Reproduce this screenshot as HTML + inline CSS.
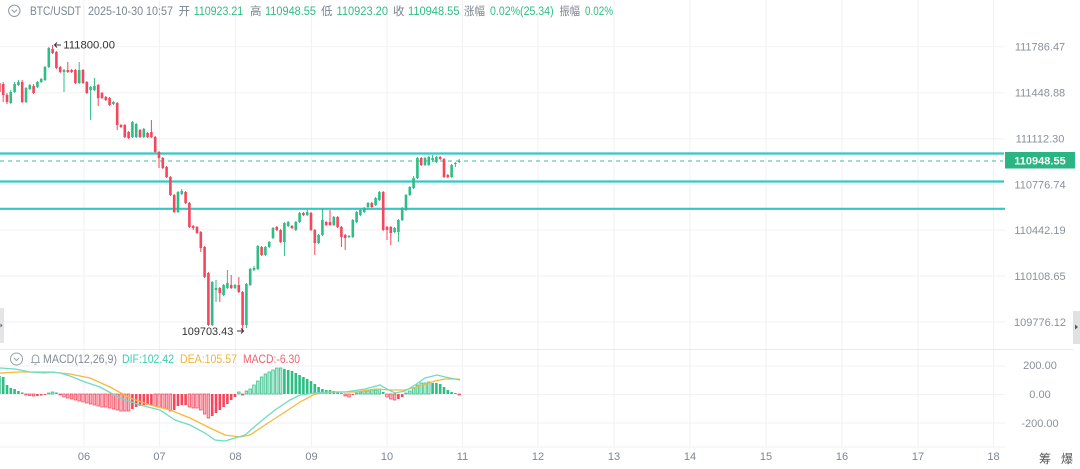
<!DOCTYPE html>
<html><head><meta charset="utf-8">
<style>
html,body{margin:0;padding:0;background:#fff;}
svg{display:block;font-family:"Liberation Sans","Noto Sans CJK SC",sans-serif;}
</style></head>
<body>
<svg width="1080" height="469" viewBox="0 0 1080 469" xmlns="http://www.w3.org/2000/svg">
<rect width="1080" height="469" fill="#fff"/>
<!-- grid -->
<g stroke="#f1f2f4" stroke-width="1">
<path d="M84 0V447M159.5 0V447M235.5 0V447M311.5 0V447M387 0V447M462.5 0V447M538 0V447M614 0V447M690 0V447M766 0V447M842 0V447M918 0V447M993.5 0V447"/>
<path d="M0 46.7H1005M0 92.7H1005M0 138.7H1005M0 184.3H1005M0 230H1005M0 276H1005M0 322H1005"/>
<path d="M0 366H1005M0 394.5H1005M0 423H1005M0 447H1005"/>
</g>
<path d="M0 349.5H1073" stroke="#e9eaec" stroke-width="1"/>

<!-- header -->
<circle cx="14.3" cy="10.8" r="5.7" fill="none" stroke="#9097a0" stroke-width="1"/>
<path d="M11.6 9.6l2.7 2.7 2.7-2.7" fill="none" stroke="#9097a0" stroke-width="1"/>
<g font-size="11.5" fill="#7c8591">
<text x="30" y="15" textLength="51" lengthAdjust="spacingAndGlyphs">BTC/USDT</text>
<text x="88" y="15" textLength="85" lengthAdjust="spacingAndGlyphs">2025-10-30 10:57</text>
<text x="178.6" y="15">开</text>
<text x="250" y="15">高</text>
<text x="321" y="15">低</text>
<text x="393" y="15">收</text>
<text x="464" y="15" textLength="21" lengthAdjust="spacingAndGlyphs">涨幅</text>
<text x="559.5" y="15" textLength="20.5" lengthAdjust="spacingAndGlyphs">振幅</text>
</g>
<g font-size="11.5" fill="#2ebd85">
<text x="193.7" y="15" textLength="49.5" lengthAdjust="spacingAndGlyphs">110923.21</text>
<text x="265" y="15" textLength="51" lengthAdjust="spacingAndGlyphs">110948.55</text>
<text x="336.5" y="15" textLength="51.5" lengthAdjust="spacingAndGlyphs">110923.20</text>
<text x="408" y="15" textLength="51.5" lengthAdjust="spacingAndGlyphs">110948.55</text>
<text x="490" y="15" textLength="63.6" lengthAdjust="spacingAndGlyphs">0.02%(25.34)</text>
<text x="585" y="15" textLength="28" lengthAdjust="spacingAndGlyphs">0.02%</text>
</g>

<!-- horizontal lines -->
<g stroke="#36c6c6" stroke-width="2.2">
<path d="M0 153.5H1004M0 181.5H1004M0 208.8H1005"/>
</g>
<path d="M0 161H1003" stroke="#3cbf93" stroke-width="1" stroke-dasharray="4 4"/>

<!-- green candles -->
<path fill="none" stroke="#2ebd85" stroke-width="1" d="M10.8 90V104M14.6 82V93M18.4 80V86M26 87V103M29.8 84V90M37.4 81V88M41.2 78V83M45 66V81M48.8 47V68M64 69V92M79.2 62V84M90.6 86V120M94.4 78V91M113.4 101V105M132.4 121V138M136.2 123V138M143.8 128V138M178 191V213M181.8 189V195M212.2 281V326M216 280V302M223.6 284V296M227.4 270V289M235 284V289M246.4 283V328M250.2 268V286M254 266V271M257.8 245V270M265.4 246V256M269.2 241V248M273 227V239M284.4 222V256M288.2 221V227M295.8 221V231M299.6 212V223M307.2 210V216M318.6 234V244M322.4 208V236M333.8 216V226M349 235V238M352.8 219V238M356.6 211V223M360.4 209V216M364.2 207V213M368 202V208M375.6 197V206M379.4 191V201M394.6 227V233M398.4 219V242M402.2 207V221M406 194V211M409.8 186V196M413.6 176V189M417.4 157V179M425 157V166M428.8 156V166M432.6 155V162M436.4 156V163M451.6 164V178M455.4 162V167M459.2 159V163"/>
<path fill="#2ebd85" d="M9.5 92h2.6V103h-2.6zM13.3 84h2.6V92h-2.6zM17.1 82h2.6V85h-2.6zM24.7 88h2.6V102h-2.6zM28.5 85h2.6V89h-2.6zM36.1 82h2.6V87h-2.6zM39.9 79h2.6V82h-2.6zM43.7 67h2.6V80h-2.6zM47.5 48h2.6V67h-2.6zM62.7 70h2.6V72h-2.6zM77.9 70h2.6V83h-2.6zM89.3 87h2.6V90h-2.6zM93.1 86h2.6V90h-2.6zM112.1 102h2.6V104h-2.6zM131.1 122h2.6V137h-2.6zM134.9 124h2.6V137h-2.6zM142.5 129h2.6V137h-2.6zM176.7 192h2.6V212h-2.6zM180.5 191h2.6V194h-2.6zM210.9 282h2.6V325h-2.6zM214.7 288h2.6V290h-2.6zM222.3 285h2.6V295h-2.6zM226.1 283h2.6V288h-2.6zM233.7 285h2.6V288h-2.6zM245.1 284h2.6V325h-2.6zM248.9 269h2.6V285h-2.6zM252.7 268h2.6V270h-2.6zM256.5 246h2.6V269h-2.6zM264.1 247h2.6V255h-2.6zM267.9 242h2.6V247h-2.6zM271.7 228h2.6V238h-2.6zM283.1 223h2.6V242h-2.6zM286.9 222h2.6V226h-2.6zM294.5 222h2.6V230h-2.6zM298.3 213h2.6V222h-2.6zM305.9 212h2.6V215h-2.6zM317.3 235h2.6V243h-2.6zM321.1 220h2.6V235h-2.6zM332.5 217h2.6V225h-2.6zM347.7 236h2.6V237h-2.6zM351.5 220h2.6V237h-2.6zM355.3 212h2.6V222h-2.6zM359.1 210h2.6V215h-2.6zM362.9 208h2.6V212h-2.6zM366.7 203h2.6V207h-2.6zM374.3 198h2.6V205h-2.6zM378.1 192h2.6V200h-2.6zM393.3 228h2.6V232h-2.6zM397.1 220h2.6V232h-2.6zM400.9 208h2.6V220h-2.6zM404.7 195h2.6V210h-2.6zM408.5 187h2.6V195h-2.6zM412.3 178h2.6V188h-2.6zM416.1 158h2.6V178h-2.6zM423.7 158h2.6V165h-2.6zM427.5 157h2.6V165h-2.6zM431.3 158h2.6V160h-2.6zM435.1 157h2.6V162h-2.6zM450.3 165h2.6V177h-2.6zM454.1 163h2.6V164h-2.6zM457.9 161h2.6V162h-2.6z"/>

<!-- red candles -->
<path fill="none" stroke="#f6465d" stroke-width="1" d="M-0.6 80V95M3.2 82V102M7 93V104M22.2 80V103M33.6 84V94M52.6 45V54M56.4 51V69M60.2 66V73M67.8 62V73M71.6 69V73M75.4 69V84M83 69V84M86.8 81V94M98.2 84V106M102 92V99M105.8 96V101M109.6 97V106M117.2 102V130M121 124V128M124.8 124V138M128.6 131V139M140 129V138M147.6 132V138M151.4 120V138M155.2 136V153M159 151V168M162.8 157V169M166.6 166V178M170.4 176V196M174.2 194V213M185.6 191V204M189.4 202V228M193.2 225V230M197 226V234M200.8 231V252M204.6 246V278M208.4 272V326M219.8 287V302M231.2 275V289M238.8 277V293M242.6 291V331M261.6 246V256M276.8 226V231M280.6 229V243M292 225V229M303.4 212V216M311 212V231M314.8 229V255M326.2 221V226M330 210V226M337.6 216V228M341.4 226V247M345.2 234V250M371.8 202V208M383.2 191V231M387 226V240M390.8 226V245M421.2 157V166M440.2 156V160M444 158V178M447.8 174V178"/>
<path fill="#f6465d" d="M-1.9 83h2.6V92h-2.6zM1.9 84h2.6V95h-2.6zM5.7 95h2.6V102h-2.6zM20.9 82h2.6V102h-2.6zM32.3 86h2.6V93h-2.6zM51.3 49h2.6V53h-2.6zM55.1 52h2.6V68h-2.6zM58.9 67h2.6V72h-2.6zM66.5 70h2.6V72h-2.6zM70.3 70h2.6V72h-2.6zM74.1 70h2.6V83h-2.6zM81.7 70h2.6V83h-2.6zM85.5 82h2.6V93h-2.6zM96.9 85h2.6V98h-2.6zM100.7 93h2.6V98h-2.6zM104.5 97h2.6V100h-2.6zM108.3 98h2.6V105h-2.6zM115.9 103h2.6V125h-2.6zM119.7 125h2.6V127h-2.6zM123.5 125h2.6V137h-2.6zM127.3 132h2.6V138h-2.6zM138.7 130h2.6V137h-2.6zM146.3 133h2.6V137h-2.6zM150.1 132h2.6V137h-2.6zM153.9 137h2.6V152h-2.6zM157.7 152h2.6V158h-2.6zM161.5 158h2.6V168h-2.6zM165.3 167h2.6V177h-2.6zM169.1 177h2.6V195h-2.6zM172.9 195h2.6V212h-2.6zM184.3 192h2.6V203h-2.6zM188.1 203h2.6V227h-2.6zM191.9 226h2.6V228h-2.6zM195.7 227h2.6V233h-2.6zM199.5 232h2.6V248h-2.6zM203.3 247h2.6V277h-2.6zM207.1 273h2.6V325h-2.6zM218.5 288h2.6V293h-2.6zM229.9 285h2.6V288h-2.6zM237.5 285h2.6V292h-2.6zM241.3 292h2.6V325h-2.6zM260.3 247h2.6V255h-2.6zM275.5 227h2.6V230h-2.6zM279.3 230h2.6V242h-2.6zM290.7 226h2.6V228h-2.6zM302.1 213h2.6V215h-2.6zM309.7 213h2.6V230h-2.6zM313.5 230h2.6V243h-2.6zM324.9 222h2.6V225h-2.6zM328.7 222h2.6V225h-2.6zM336.3 217h2.6V227h-2.6zM340.1 227h2.6V237h-2.6zM343.9 235h2.6V238h-2.6zM370.5 203h2.6V207h-2.6zM381.9 192h2.6V230h-2.6zM385.7 227h2.6V230h-2.6zM389.5 227h2.6V233h-2.6zM419.9 158h2.6V165h-2.6zM438.9 157h2.6V159h-2.6zM442.7 159h2.6V177h-2.6zM446.5 175h2.6V177h-2.6z"/>

<!-- annotations -->
<path d="M61 45H54.5M57 42.5L54.5 45L57 47.5" fill="none" stroke="#333" stroke-width="1"/>
<text x="63.3" y="48.5" font-size="11" fill="#333" textLength="51.7" lengthAdjust="spacingAndGlyphs">111800.00</text>
<text x="181.7" y="335" font-size="11" fill="#333" textLength="51.6" lengthAdjust="spacingAndGlyphs">109703.43</text>
<path d="M237 331H243.5M241 328.5L243.5 331L241 333.5" fill="none" stroke="#333" stroke-width="1"/>

<!-- price axis -->
<g font-size="11" fill="#8a919b" text-anchor="middle">
<text x="1040" y="50.7">111786.47</text>
<text x="1040" y="96.7">111448.88</text>
<text x="1040" y="142.7">111112.30</text>
<text x="1040" y="188.3">110776.74</text>
<text x="1040" y="234">110442.19</text>
<text x="1040" y="280">110108.65</text>
<text x="1040" y="326">109776.12</text>
<text x="1040" y="369">200.00</text>
<text x="1040" y="398">0.00</text>
<text x="1040" y="427">-200.00</text>
</g>
<rect x="1005" y="152" width="70" height="16.5" fill="#2bb582"/>
<text x="1040" y="164.3" font-size="11" fill="#fff" text-anchor="middle" font-weight="bold">110948.55</text>

<!-- side tabs -->
<rect x="0" y="308" width="4" height="35" fill="#e4e5e7"/>
<path d="M0.5 323.5L2.5 325.5L0.5 327.5z" fill="#666"/>
<rect x="1073" y="311" width="7" height="33" fill="#e0e1e3"/>
<path d="M1075 324.5L1078 327L1075 329.5z" fill="#555"/>

<!-- MACD header -->
<circle cx="16.5" cy="359" r="6" fill="none" stroke="#9aa0a8" stroke-width="1"/>
<path d="M13.8 357.8l2.7 2.7 2.7-2.7" fill="none" stroke="#9aa0a8" stroke-width="1"/>
<path d="M31 362.5h9M32.3 362.5v-4.3a3.2 3.2 0 0 1 6.4 0v4.3M34.3 364.2h2.4" fill="none" stroke="#9aa0a8" stroke-width="1"/>
<g font-size="12">
<text x="43" y="363" fill="#858c96" textLength="74" lengthAdjust="spacingAndGlyphs">MACD(12,26,9)</text>
<text x="122" y="363" fill="#3fcdae" textLength="52" lengthAdjust="spacingAndGlyphs">DIF:102.42</text>
<text x="180" y="363" fill="#f2b33a" textLength="57" lengthAdjust="spacingAndGlyphs">DEA:105.57</text>
<text x="243" y="363" fill="#f0626f" textLength="57" lengthAdjust="spacingAndGlyphs">MACD:-6.30</text>
</g>

<!-- MACD histogram -->
<path fill="#2ebd85" d="M-1.9 376h2.6V394h-2.6zM1.9 377h2.6V394h-2.6zM5.7 385h2.6V394h-2.6zM9.5 388h2.6V394h-2.6zM13.3 389h2.6V394h-2.6zM17.1 391h2.6V394h-2.6zM20.9 392.5h2.6V394h-2.6zM55.1 392.5h2.6V394h-2.6zM283.1 369h2.6V394h-2.6zM286.9 370h2.6V394h-2.6zM290.7 371h2.6V394h-2.6zM294.5 373h2.6V394h-2.6zM298.3 375h2.6V394h-2.6zM302.1 377h2.6V394h-2.6zM305.9 379h2.6V394h-2.6zM309.7 381h2.6V394h-2.6zM313.5 384h2.6V394h-2.6zM317.3 387h2.6V394h-2.6zM321.1 389h2.6V394h-2.6zM324.9 390h2.6V394h-2.6zM328.7 390h2.6V394h-2.6zM332.5 391h2.6V394h-2.6zM336.3 392h2.6V394h-2.6zM340.1 393h2.6V394h-2.6zM381.9 392h2.6V394h-2.6zM431.3 383h2.6V394h-2.6zM435.1 383h2.6V394h-2.6zM438.9 384h2.6V394h-2.6zM442.7 387h2.6V394h-2.6zM446.5 390h2.6V394h-2.6zM450.3 392h2.6V394h-2.6zM454.1 393h2.6V394h-2.6z"/>
<path fill="#b3e9d3" stroke="#2ebd85" stroke-width="0.7" d="M47.5 393h2.6V394h-2.6zM51.3 392h2.6V394h-2.6zM237.5 392h2.6V394h-2.6zM245.1 391h2.6V394h-2.6zM248.9 389h2.6V394h-2.6zM252.7 385h2.6V394h-2.6zM256.5 381h2.6V394h-2.6zM260.3 377h2.6V394h-2.6zM264.1 374h2.6V394h-2.6zM267.9 372h2.6V394h-2.6zM271.7 370h2.6V394h-2.6zM275.5 368h2.6V394h-2.6zM279.3 368h2.6V394h-2.6zM355.3 393h2.6V394h-2.6zM359.1 392h2.6V394h-2.6zM362.9 391h2.6V394h-2.6zM366.7 391h2.6V394h-2.6zM370.5 390h2.6V394h-2.6zM374.3 390h2.6V394h-2.6zM378.1 389h2.6V394h-2.6zM404.7 393h2.6V394h-2.6zM408.5 391h2.6V394h-2.6zM412.3 388h2.6V394h-2.6zM416.1 385h2.6V394h-2.6zM419.9 383h2.6V394h-2.6zM423.7 383h2.6V394h-2.6zM427.5 382h2.6V394h-2.6z"/>
<path fill="#f6465d" d="M36.1 394h2.6V396h-2.6zM39.9 394h2.6V395.5h-2.6zM43.7 394h2.6V395h-2.6zM131.1 394h2.6V409h-2.6zM134.9 394h2.6V407h-2.6zM138.7 394h2.6V406h-2.6zM142.5 394h2.6V405h-2.6zM146.3 394h2.6V405h-2.6zM150.1 394h2.6V405h-2.6zM172.9 394h2.6V410h-2.6zM176.7 394h2.6V406h-2.6zM180.5 394h2.6V405h-2.6zM184.3 394h2.6V405h-2.6zM210.9 394h2.6V416h-2.6zM214.7 394h2.6V413h-2.6zM218.5 394h2.6V410h-2.6zM222.3 394h2.6V407h-2.6zM226.1 394h2.6V404h-2.6zM229.9 394h2.6V400h-2.6zM233.7 394h2.6V397h-2.6zM351.5 394h2.6V395h-2.6zM397.1 394h2.6V399h-2.6zM400.9 394h2.6V397h-2.6z"/>
<path fill="#fbb6bf" stroke="#f6465d" stroke-width="0.7" d="M24.7 394h2.6V395h-2.6zM28.5 394h2.6V395.5h-2.6zM32.3 394h2.6V396h-2.6zM58.9 394h2.6V395h-2.6zM62.7 394h2.6V397h-2.6zM66.5 394h2.6V398h-2.6zM70.3 394h2.6V399h-2.6zM74.1 394h2.6V400h-2.6zM77.9 394h2.6V401h-2.6zM81.7 394h2.6V402h-2.6zM85.5 394h2.6V403h-2.6zM89.3 394h2.6V404h-2.6zM93.1 394h2.6V405h-2.6zM96.9 394h2.6V406h-2.6zM100.7 394h2.6V407h-2.6zM104.5 394h2.6V407h-2.6zM108.3 394h2.6V408h-2.6zM112.1 394h2.6V409h-2.6zM115.9 394h2.6V410h-2.6zM119.7 394h2.6V411h-2.6zM123.5 394h2.6V411h-2.6zM127.3 394h2.6V411h-2.6zM153.9 394h2.6V406h-2.6zM157.7 394h2.6V407h-2.6zM161.5 394h2.6V408h-2.6zM165.3 394h2.6V409h-2.6zM169.1 394h2.6V411h-2.6zM188.1 394h2.6V407h-2.6zM191.9 394h2.6V408h-2.6zM195.7 394h2.6V408h-2.6zM199.5 394h2.6V410h-2.6zM203.3 394h2.6V414h-2.6zM207.1 394h2.6V418h-2.6zM241.3 394h2.6V395h-2.6zM343.9 394h2.6V396h-2.6zM347.7 394h2.6V397h-2.6zM385.7 394h2.6V397h-2.6zM389.5 394h2.6V399h-2.6zM393.3 394h2.6V400h-2.6zM457.9 394h2.6V395h-2.6z"/>

<!-- DIF / DEA -->
<polyline fill="none" stroke="#f5b93d" stroke-width="1.3" points="0,373 20,372 50,372 70,374 90,378 110,387 130,398 150,405 170,410 190,418 210,428 225,435 240,437 250,435 265,425 285,412 300,402 315,394 335,392 355,392 375,389 390,390 405,390 420,386 435,381 445,379 460,379"/>
<polyline fill="none" stroke="#6edcc3" stroke-width="1.3" points="0,368 15,369 30,372 45,373 52,372 60,373 70,376 85,382 100,387 120,398 140,405 160,410 175,420 190,425 205,433 215,440 225,441 235,438 245,435 260,422 275,410 290,400 300,395 315,393 330,392 345,392 365,389 380,385 387,389 395,393 405,391 415,385 425,378 437,375 445,377 460,380"/>

<!-- time axis -->
<g font-size="11" fill="#7c8591" text-anchor="middle">
<text x="84" y="460">06</text>
<text x="159.5" y="460">07</text>
<text x="235.5" y="460">08</text>
<text x="311.5" y="460">09</text>
<text x="387" y="460">10</text>
<text x="462.5" y="460">11</text>
<text x="538" y="460">12</text>
<text x="614" y="460">13</text>
<text x="690" y="460">14</text>
<text x="766" y="460">15</text>
<text x="842" y="460">16</text>
<text x="918" y="460">17</text>
<text x="993.5" y="460">18</text>
</g>
<text x="1039" y="463" font-size="12" fill="#555">筹</text>
<text x="1061" y="463" font-size="12" fill="#555">爆</text>
</svg>
</body></html>
